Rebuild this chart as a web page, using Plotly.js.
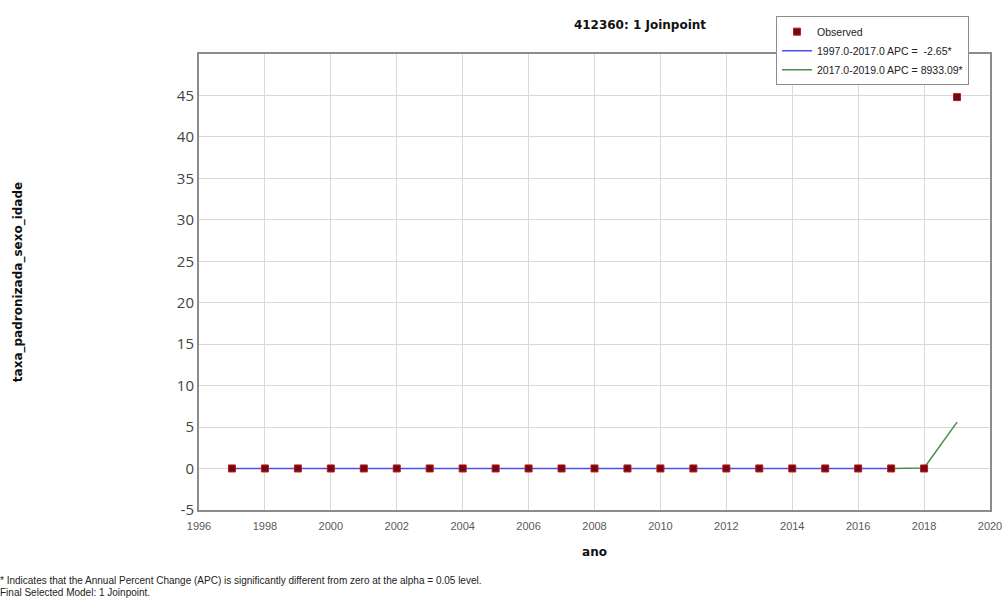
<!DOCTYPE html>
<html>
<head>
<meta charset="utf-8">
<script src="https://cdn.plot.ly/plotly-3.0.1.min.js"></script>
<style>
  html, body { margin: 0; padding: 0; background: #ffffff; }
  #chart { width: 1003px; height: 601px; }
</style>
</head>
<body>
<div id="chart"></div>
<script>
// Observed rates per year
const years = [1997, 1998, 1999, 2000, 2001, 2002, 2003, 2004, 2005, 2006, 2007,
               2008, 2009, 2010, 2011, 2012, 2013, 2014, 2015, 2016, 2017, 2018, 2019];
const observed = [0.01, 0.01, 0.01, 0.01, 0.01, 0.01, 0.01, 0.01, 0.01, 0.01, 0.01,
                  0.01, 0.01, 0.01, 0.01, 0.01, 0.01, 0.01, 0.01, 0.01, 0.01, 0.01, 44.8];

// Segment 1: 1997-2017 fitted values
const seg1Years = [1997, 1998, 1999, 2000, 2001, 2002, 2003, 2004, 2005, 2006, 2007,
                   2008, 2009, 2010, 2011, 2012, 2013, 2014, 2015, 2016, 2017];
const seg1Fit = [0.016, 0.016, 0.015, 0.015, 0.014, 0.014, 0.014, 0.013, 0.013, 0.013, 0.012,
                 0.012, 0.012, 0.011, 0.011, 0.011, 0.010, 0.010, 0.010, 0.010, 0.009];

// Segment 2: 2017-2019 fitted values
const seg2Years = [2017, 2018, 2019];
const seg2Fit = [0.009, 0.062, 5.6];

const legendLabels = ['Observed', '1997.0-2017.0 APC =  -2.65*', '2017.0-2019.0 APC = 8933.09*'];

const xTicks = [1996, 1998, 2000, 2002, 2004, 2006, 2008, 2010, 2012, 2014, 2016, 2018, 2020];
const yTicks = [-5, 0, 5, 10, 15, 20, 25, 30, 35, 40, 45, 50];
const yTickText = ['-5', '0', '5', '10', '15', '20', '25', '30', '35', '40', '45', ''];

const traces = [
  {
    x: seg1Years, y: seg1Fit, type: 'scatter', mode: 'lines',
    name: legendLabels[1], legendrank: 2,
    line: { color: '#5050e8', width: 1.5 }
  },
  {
    x: seg2Years, y: seg2Fit, type: 'scatter', mode: 'lines',
    name: legendLabels[2], legendrank: 3,
    line: { color: '#4c8c4c', width: 1.5 }
  },
  {
    x: years, y: observed, type: 'scatter', mode: 'markers',
    name: legendLabels[0], legendrank: 1,
    marker: { symbol: 'square', size: 7, color: '#6e0a14', line: { color: '#c01818', width: 1 } }
  }
];

const layout = {
  width: 1003, height: 601,
  margin: { l: 199, r: 13, t: 54, b: 91 },
  paper_bgcolor: '#ffffff',
  plot_bgcolor: '#ffffff',
  showlegend: true,
  title: {
    text: '412360: 1 Joinpoint',
    font: { family: 'DejaVu Sans', size: 12, color: '#111111', weight: 'bold' },
    xref: 'paper', x: 0.5575, xanchor: 'center',
    yref: 'container', y: 0.958, yanchor: 'middle'
  },
  xaxis: {
    range: [1996, 2020],
    tickvals: xTicks,
    showgrid: true, gridcolor: '#d9d9d9', gridwidth: 1,
    zeroline: false,
    showline: true, linecolor: '#8c8c8c', linewidth: 2, mirror: true,
    ticks: '', ticklabelstandoff: 5,
    tickfont: { family: 'Liberation Sans Narrow, Liberation Sans, Arial', size: 11, color: '#5a5a5a' },
    title: {
      text: 'ano', standoff: 16,
      font: { family: 'DejaVu Sans', size: 12, color: '#111111', weight: 'bold' }
    }
  },
  yaxis: {
    range: [-5, 50],
    tickvals: yTicks, ticktext: yTickText,
    showgrid: true, gridcolor: '#d9d9d9', gridwidth: 1,
    zeroline: false,
    showline: true, linecolor: '#8c8c8c', linewidth: 2, mirror: true,
    ticks: '',
    tickfont: { family: 'Open Sans, Noto Sans, sans-serif', size: 15, color: '#444444' },
    title: {
      text: 'taxa_padronizada_sexo_idade', standoff: 152,
      font: { family: 'DejaVu Sans', size: 12, color: '#111111', weight: 'bold' }
    }
  },
  legend: {
    x: 0.7295, y: 1.083, xanchor: 'left', yanchor: 'top',
    bgcolor: '#ffffff', bordercolor: '#8c8c8c', borderwidth: 1,
    font: { family: 'Liberation Sans Narrow, Liberation Sans, Arial', size: 10.5, color: '#222222' },
    itemwidth: 30, tracegroupgap: 0
  },
  annotations: [
    {
      xref: 'paper', yref: 'paper', x: -0.254, y: -0.155, xanchor: 'left', yanchor: 'middle',
      showarrow: false, align: 'left',
      text: '* Indicates that the Annual Percent Change (APC) is significantly different from zero at the alpha = 0.05 level.',
      font: { family: 'Liberation Sans, Arial', size: 10, color: '#222222' }
    },
    {
      xref: 'paper', yref: 'paper', x: -0.254, y: -0.182, xanchor: 'left', yanchor: 'middle',
      showarrow: false, align: 'left',
      text: 'Final Selected Model: 1 Joinpoint.',
      font: { family: 'Liberation Sans, Arial', size: 10, color: '#222222' }
    }
  ]
};

Plotly.newPlot('chart', traces, layout, { displayModeBar: false, staticPlot: true });
</script>
</body>
</html>
